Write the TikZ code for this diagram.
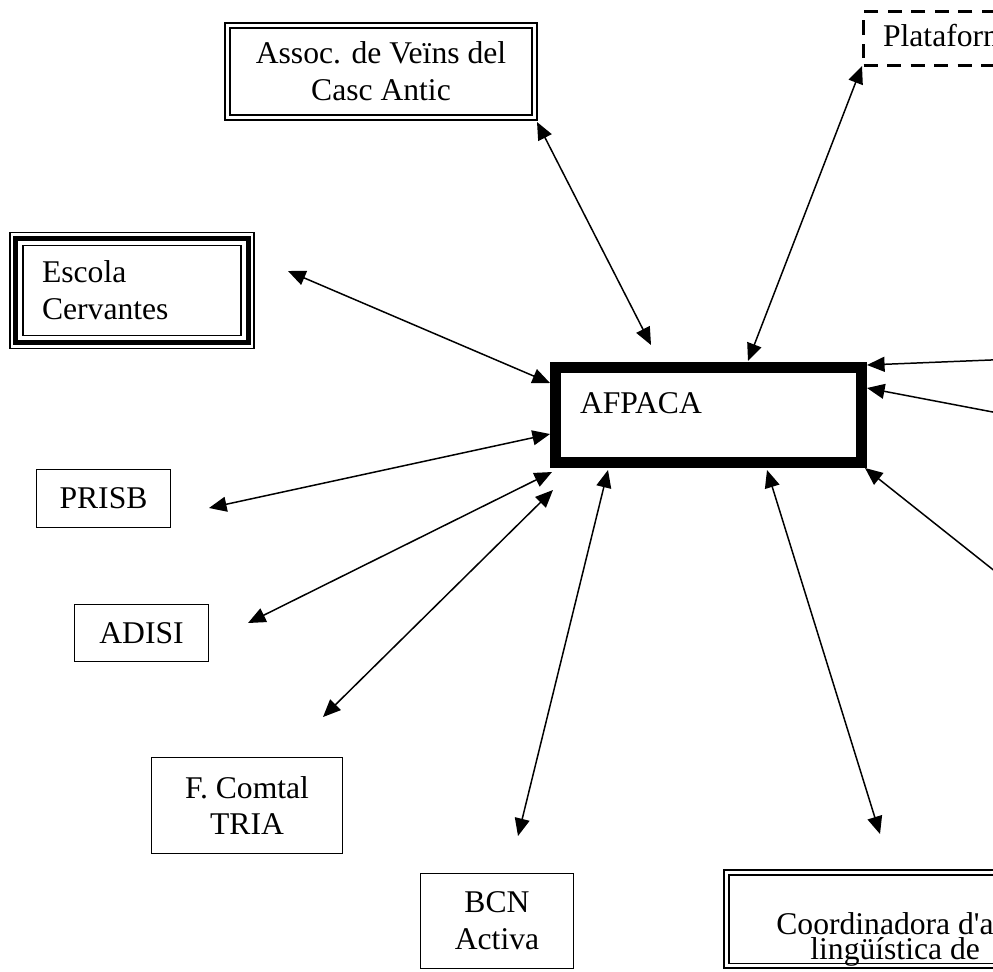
\documentclass[tikz,border=0pt]{standalone}
\usepackage{fontspec}
\setmainfont{Liberation Serif}
\usetikzlibrary{arrows.meta}
\tikzset{
    linkarrow/.style={line width=0.85pt, >={Triangle[length=10pt,width=8.5pt]}, <->} }
\tikzset{
    boxthin/.style={draw, line width=0.75pt, inner sep=0pt, outer sep=0pt,
        align=center, font=\fontsize{18}{21}\selectfont} }
\tikzset{
    boxdouble/.style={boxthin, double, double distance=1.7pt, line width=1.1pt} }
\tikzset{
    txtonly/.style={inner sep=0pt, font=\fontsize{18}{21}\selectfont} }

\begin{document}
\begin{tikzpicture}[x=0.02cm, y=-0.02cm]

  \useasboundingbox (0,0) rectangle (993,971);
  \clip (0,0) rectangle (993,971);

% centre box
  \node [boxthin, line width=6.26pt, minimum width=174.4pt, minimum height=54.1pt,
         text width=146pt, align=left, text depth=14.2pt] (afpaca) at (708.25,415) {AFPACA};

% boxes round it
  \node [boxdouble, minimum width=174.7pt, minimum height=52.4pt] (assoc) at (381,71.5) {Assoc. de Ve\"ins del\\Casc Antic};
  \node [boxthin, line width=1.8pt, dash pattern=on 8pt off 5.4pt, minimum width=163pt, minimum height=30.7pt,
         text width=140.8pt, align=left, text depth=3.8pt] (plataforma) at (1006.75,38.5) {Plataforma};
  \node [boxthin, line width=2.85pt, minimum width=132.2pt, minimum height=59.2pt,
         text width=102.4pt, align=left] (escola) at (132,290.5) {Escola\\Cervantes};
  \draw [line width=0.75pt] ([shift={(-6,-6)}]escola.north west) rectangle ([shift={(6,6)}]escola.south east);
  \draw [line width=0.75pt] ([shift={(7,7)}]escola.north west) rectangle ([shift={(-7,-7)}]escola.south east);
  \node [boxthin, minimum width=76.3pt, minimum height=33pt] (prisb) at (103.5,498.5) {PRISB};
  \node [boxthin, minimum width=76.3pt, minimum height=32.4pt] (adisi) at (141.5,633) {ADISI};
  \node [boxthin, minimum width=108.7pt, minimum height=54.6pt] (comtal) at (247,805.5) {F. Comtal\\TRIA};
  \node [boxthin, minimum width=87.1pt, minimum height=54.1pt] (bcn) at (497,921) {BCN\\Activa};
  \node [boxdouble, line width=1.05pt, minimum width=240.9pt, minimum height=53.1pt] (coord) at (938.3,919.3) {};
  \node [txtonly, anchor=base west] (coordA) at (776,934) {Coordinadora d\textquotesingle a};
  \node [txtonly, anchor=base west] (coordB) at (810,959) {ling\"u\'istica de};

% arrow ends
  \coordinate (assocE) at (537,122);   \coordinate (afpN1) at (651,345);
  \coordinate (platE) at (862,66);     \coordinate (afpN2) at (748,361);
  \coordinate (escolaE) at (288,271);  \coordinate (afpW1) at (550,383);
  \coordinate (prisbE) at (209,508);   \coordinate (afpW2) at (550,434);
  \coordinate (adisiE) at (248,623);   \coordinate (afpW3) at (552,472);
  \coordinate (comtalE) at (323,717);  \coordinate (afpW4) at (553,490);
  \coordinate (bcnE) at (518,836);     \coordinate (afpS1) at (608,470);
  \coordinate (coordE) at (880,834);   \coordinate (afpS2) at (767,470);
  \coordinate (far1) at (1040,358);    \coordinate (afpE1) at (867,365);
  \coordinate (far2) at (1040,421);    \coordinate (afpE2) at (867,388);
  \coordinate (far3) at (1040,607);    \coordinate (afpE3) at (865,468);

  \draw [linkarrow] (assocE) -- (afpN1);   \draw [linkarrow] (platE) -- (afpN2);
  \draw [linkarrow] (escolaE) -- (afpW1);  \draw [linkarrow] (prisbE) -- (afpW2);
  \draw [linkarrow] (adisiE) -- (afpW3);   \draw [linkarrow] (comtalE) -- (afpW4);
  \draw [linkarrow] (bcnE) -- (afpS1);     \draw [linkarrow] (coordE) -- (afpS2);
  \draw [linkarrow] (far1) -- (afpE1);     \draw [linkarrow] (far2) -- (afpE2);
  \draw [linkarrow] (far3) -- (afpE3);

\end{tikzpicture}
\end{document}
